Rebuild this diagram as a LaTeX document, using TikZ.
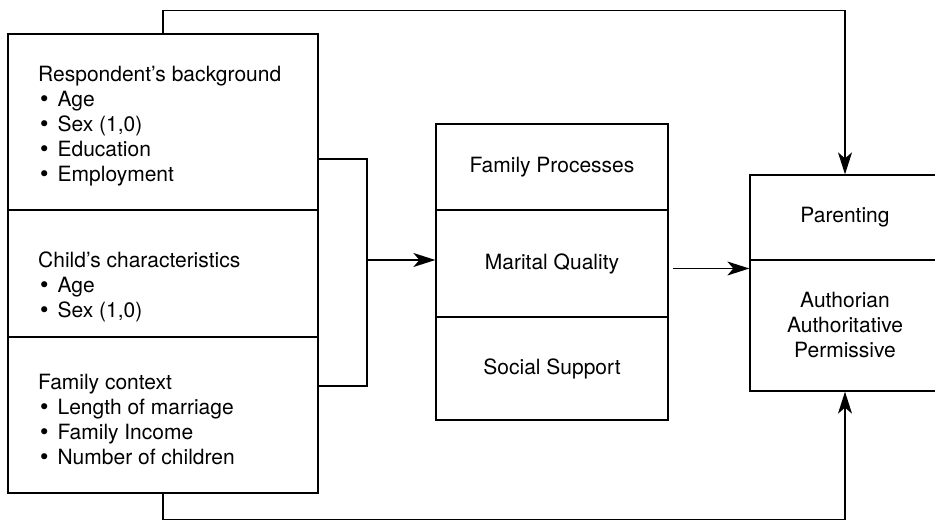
\documentclass[tikz,border=0pt]{standalone}
\usepackage{fontspec}
\setmainfont{TeX Gyre Heros}
\newfontfamily\bulfont{DejaVu Sans}
\usetikzlibrary{arrows.meta}

\newcommand{\bitem}[1]{{\bulfont •}\hspace{7pt}#1}

\begin{document}
\begin{tikzpicture}[
x = 1pt, y = 1pt,
every node/.style = {font=\fontsize{21}{25}\selectfont, inner sep=0pt},
cell/.style = {draw, line width=1.3pt, align=center},
listtext/.style = {anchor=north west, align=left},
line/.style = {line width=1.3pt},
arr/.style = {line width=1.3pt, -{Stealth[length=22pt, width=14pt, inset=6pt]}}
]
\useasboundingbox (0,0) rectangle (935,520);

\node[cell, minimum width=310pt, minimum height=176pt] (resp) at (163,398) {};
\node[cell, minimum width=310pt, minimum height=127pt] (child) at (163,246.5) {};
\node[cell, minimum width=310pt, minimum height=156pt] (fam) at (163,105) {};
\node[listtext] (resptxt) at (38,454) {Respondent's background\\
	\bitem{Age}\\ \bitem{Sex (1,0)}\\ \bitem{Education}\\ \bitem{Employment}};
\node[listtext] (childtxt) at (38,268) {Child's characteristics\\
	\bitem{Age}\\ \bitem{Sex (1,0)}};
\node[listtext] (famtxt) at (38,146) {Family context\\
	\bitem{Length of marriage}\\ \bitem{Family Income}\\ \bitem{Number of children}};

\node[cell, minimum width=232pt, minimum height=86pt] (proc) at (552,353) {Family Processes};
\node[cell, minimum width=232pt, minimum height=107pt] (mq) at (552,256.5) {Marital Quality};
\node[cell, minimum width=232pt, minimum height=103pt] (soc) at (552,151.5) {Social Support};

\node[cell, minimum width=190pt, minimum height=85pt] (par) at (845,302.5) {Parenting};
\node[cell, minimum width=190pt, minimum height=131pt] (sty) at (845,194.5) {Authorian\\ Authoritative\\ Permissive};

\coordinate (jn) at (367,260);
\coordinate (mqo) at ([xshift=4pt, yshift=-5pt]mq.east);

\draw[line] ([yshift=-37pt]resp.east) -| (jn) |- ([yshift=29pt]fam.east);
\draw[arr] (jn) -- (jn -| mq.west);
\draw[arr] (mqo) -- (mqo -| sty.west);
\draw[arr] (resp.north) -- ++(0,23) -| (par.north);
\draw[arr] (fam.south) -- ++(0,-26) -| (sty.south);
\end{tikzpicture}
\end{document}
